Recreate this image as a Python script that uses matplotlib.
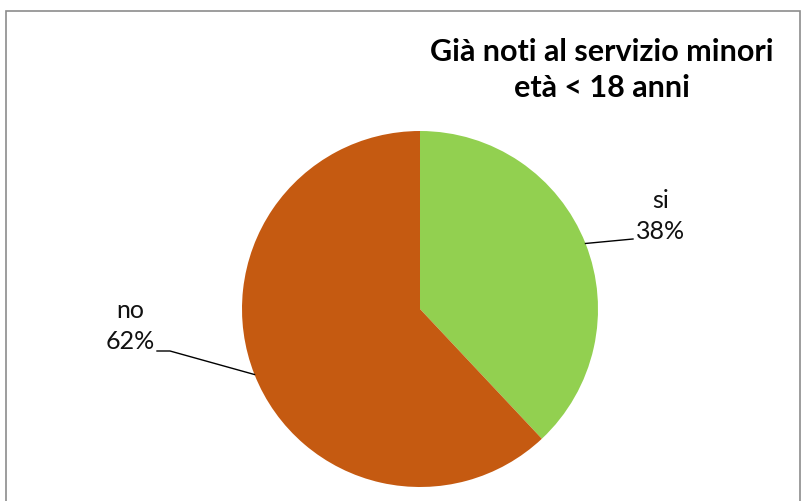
import numpy as np
import matplotlib
matplotlib.use("Agg")
import matplotlib.pyplot as plt
from matplotlib.patches import Rectangle

categories = ["si", "no"]
values = [38, 62]
colors = ["#92D050", "#C55A11"]
title = "Già noti al servizio minori\netà < 18 anni"

W, H = 804, 502
fig = plt.figure(figsize=(W / 100, H / 100), dpi=100)
ax = fig.add_axes([0, 0, 1, 1])

cx, cy, R = 420, H - 310, 178
wedges, _ = ax.pie(values, colors=colors, startangle=90, counterclock=False,
                   center=(cx, cy), radius=R, frame=True,
                   wedgeprops=dict(linewidth=0))
ax.set_xlim(0, W)
ax.set_ylim(0, H)
ax.set_aspect("equal")
ax.axis("off")

# border
ax.add_patch(Rectangle((6, -20), 794, H - 12 + 20, fill=False,
                       edgecolor="#8c8c8c", linewidth=1.2, zorder=5))

fam = ["Lato", "DejaVu Sans"]
ax.text(602, H - 70, title, ha="center", va="center", fontsize=22,
        fontweight="bold", family=fam, linespacing=1.38, color="black")

label_cfg = {
    "si": dict(text_xy=(661, H - 216), line_end=[(633, H - 240)]),
    "no": dict(text_xy=(130, H - 326), line_end=[(170, H - 352), (157, H - 352)]),
}
for w, cat, v in zip(wedges, categories, values):
    ang = np.deg2rad((w.theta1 + w.theta2) / 2)
    ax_pt = (cx + R * np.cos(ang), cy + R * np.sin(ang))
    cfg = label_cfg[cat]
    pts = [ax_pt] + cfg["line_end"]
    xs, ys = zip(*pts)
    ax.plot(xs, ys, color="black", linewidth=1.0, zorder=4)
    ax.text(cfg["text_xy"][0], cfg["text_xy"][1], f"{cat}\n{v}%", ha="center",
            va="center", fontsize=18, family=fam, linespacing=1.45, color="#111111")

fig.savefig("out.png", dpi=100)
